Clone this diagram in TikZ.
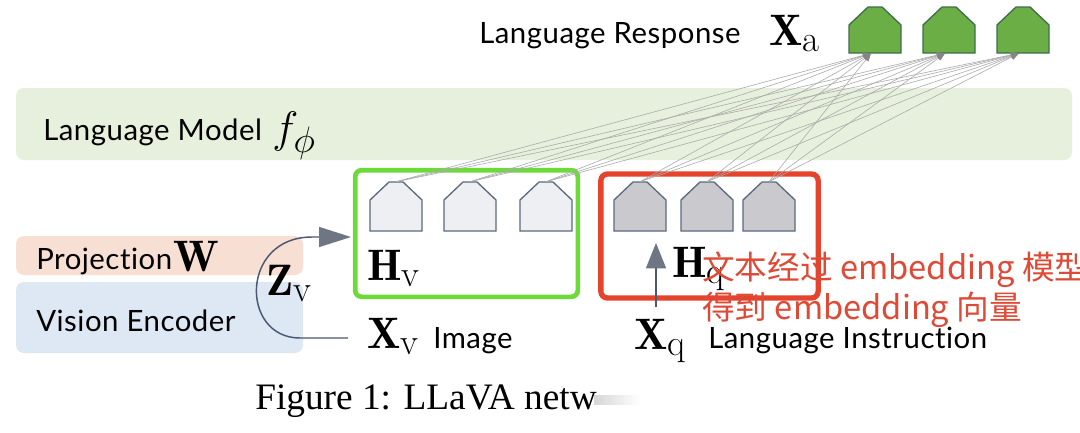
\documentclass[tikz,border=0pt]{standalone}
\usepackage{fontspec}
\newfontfamily\lato[LetterSpace=1.8,Ligatures={NoCommon,NoRare}]{Lato}
\newfontfamily\cjk{Noto Sans CJK SC}
\newfontfamily\capfont{Liberation Serif}
\usetikzlibrary{arrows.meta}
\definecolor{lmband}{HTML}{E6F0DC}
\definecolor{projband}{HTML}{F8DFD3}
\definecolor{visband}{HTML}{DDE8F4}
\definecolor{boxgreen}{HTML}{6BDB3A}
\definecolor{boxred}{HTML}{E5432B}
\definecolor{slate}{HTML}{5B6A7D}
\definecolor{lightpent}{HTML}{EEEFF2}
\definecolor{graypent}{HTML}{C9C9CE}
\definecolor{greenpent}{HTML}{6BAE45}
\definecolor{greenedge}{HTML}{3F6E4A}
\definecolor{linkgray}{HTML}{ABABAB}
\definecolor{tipgray}{HTML}{858585}
\definecolor{cnred}{HTML}{DE4A36}
\definecolor{arrowfill}{HTML}{6E7684}
\definecolor{curvecol}{HTML}{4B5873}
\newcommand\housenode[5]{%
  \node[inner sep=0, minimum width=39pt, minimum height={(#4-#3)*0.75pt}] (#1) at (#2,{(#3+#4)/2}) {};
  \path[#5] ({#2-26},#4) -- ({#2-26},{#3+18}) -- ({#2-7},#3) -- ({#2+7},#3) -- ({#2+26},{#3+18}) -- ({#2+26},#4) -- cycle;
}
\newcommand\mathbig[1]{\scalebox{1.33}{$#1$}}
\tikzset{
  band/.style={rounded corners=6pt},
  lbl/.style={inner sep=0, anchor=base west, font=\lato\fontsize{22}{26}\selectfont},
  mth/.style={inner sep=0, anchor=base west, font=\fontsize{24.88}{30}\selectfont},
  cn/.style={inner sep=0, anchor=base west, text=cnred, font=\cjk\fontsize{24.5}{29}\selectfont},
  captxt/.style={inner sep=0, anchor=base west, font=\capfont\fontsize{28}{32}\selectfont},
  lightp/.style={fill=lightpent, draw=slate, line width=1pt},
  grayp/.style={fill=graypent, draw=slate, line width=1pt},
  greenp/.style={fill=greenpent, draw=greenedge, line width=1pt},
  link/.style={draw=linkgray, line width=0.45pt, -{Triangle[length=6pt,width=4.5pt,fill=tipgray,color=tipgray]}},
  bigarrow/.style={draw=curvecol, line width=1.1pt, -{Triangle[length=24pt,width=15pt,fill=arrowfill,color=arrowfill]}},
  qarrow/.style={draw=curvecol, line width=1.1pt, -{Triangle[length=19pt,width=15pt,fill=arrowfill,color=arrowfill]}},
  framebox/.style={inner sep=0, rounded corners=5pt}
}
\begin{document}
\begin{tikzpicture}[x=0.75pt,y=-0.75pt]
\useasboundingbox (0,0) rectangle (1080,432);
\fill[white] (0,0) rectangle (1080,432);
% bands
\fill[lmband, band] (16,88) rectangle (1072,160);
\fill[projband, band] (16,236) rectangle (303,275);
\fill[visband, band] (16,282) rectangle (303,353);
% frames
\node[framebox, draw=boxgreen, line width=3.5pt, minimum width=167pt, minimum height=95pt] (hv) at (466.5,233.5) {};
\node[framebox, draw=boxred, line width=4pt, minimum width=163pt, minimum height=93pt] (hq) at (709.5,236) {};
% token nodes
\housenode{v1}{396}{182}{231}{lightp}
\housenode{v2}{470}{182}{231}{lightp}
\housenode{v3}{546}{182}{231}{lightp}
\housenode{q1}{640}{182}{231}{grayp}
\housenode{q2}{707}{182}{231}{grayp}
\housenode{q3}{769}{182}{231}{grayp}
\housenode{a1}{875}{7}{53}{greenp}
\housenode{a2}{949}{7}{53}{greenp}
\housenode{a3}{1023}{7}{53}{greenp}
% links
\foreach \s in {v1,v2,v3,q1,q2,q3}{
  \foreach \t in {a1,a2,a3}{
    \draw[link] (\s.north) -- ([xshift=-3pt]\t.south);
  }
}
% labels
\node[lbl] (lr) at (479,43) {Language Response};
\node[mth] (xa) at (769,45) {\mathbig{\mathbf{X}_{\mathrm{a}}}};
\node[lbl] (lm) at (43,140) {Language Model};
\node[mth] (fphi) at (272,142) {\mathbig{f_{\phi}}};
\node[lbl] (proj) at (36,269) {Projection};
\node[mth] (w) at (173,271) {\mathbig{\mathbf{W}}};
\node[lbl] (ve) at (36,331) {Vision Encoder};
\node[mth] (zv) at (266,295) {\mathbig{\mathbf{Z}_{\mathrm{v}}}};
\node[mth] (hvlab) at (367,280) {\mathbig{\mathbf{H}_{\mathrm{v}}}};
\node[mth] (xv) at (367,348) {\mathbig{\mathbf{X}_{\mathrm{v}}}};
\node[lbl] (img) at (433,348) {Image};
\node[mth] (hqlab) at (672,277) {\mathbig{\mathbf{H}_{\mathrm{q}}}};
\node[mth] (xq) at (634,349) {\mathbig{\mathbf{X}_{\mathrm{q}}}};
\node[lbl] (li) at (708,348) {Language Instruction};
\node[captxt] (caption) at (255,409) {Figure 1: LLaVA netw};
\shade[left color=black!16, right color=white] (594,395) rectangle (640,404);
% arrows
\coordinate (zvstart) at (348,338);
\coordinate (zvin) at (351,237);
\draw[bigarrow] (zvstart) -- (300,338) .. controls (240,338) and (240,237) .. (312,237) -- (zvin);
\coordinate (qstart) at (656,307);
\coordinate (hqin) at (656,243);
\draw[qarrow] (qstart) -- (hqin);
% chinese annotation
\node[cn] (cn1) at (702,279) {文本经过 embedding 模型};
\node[cn] (cn2) at (702,319) {得到 embedding 向量};
\end{tikzpicture}
\end{document}
